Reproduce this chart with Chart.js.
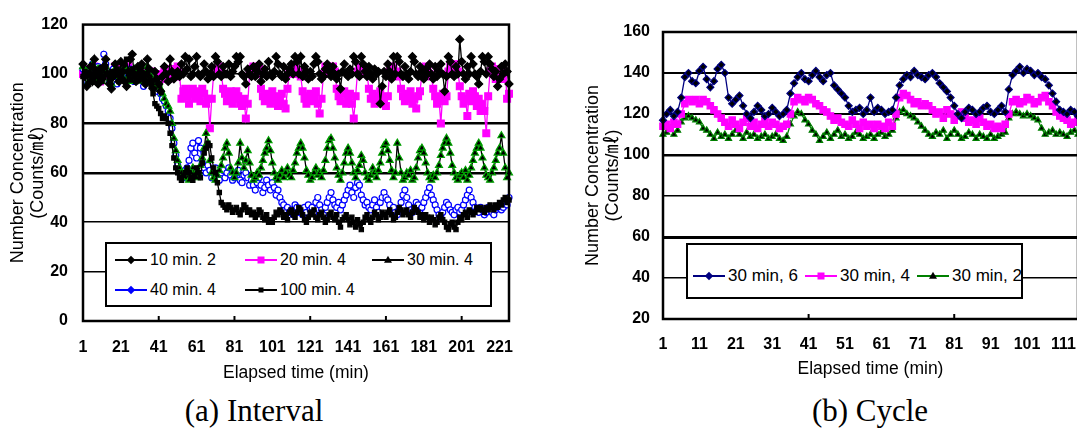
<!DOCTYPE html>
<html>
<head>
<meta charset="utf-8">
<script src="https://cdn.jsdelivr.net/npm/chart.js@4.4.1/dist/chart.umd.min.js"></script>
<style>
  body { margin: 0; width: 1077px; height: 428px; overflow: hidden; background: #fff; position: relative; font-family: 'Liberation Sans', Arial, sans-serif; }
  canvas { position: absolute; top: 0; }
  #chartA { left: 0; }
  #chartB { left: 575px; }
  .legend { position: absolute; border: 2.5px solid #000; background: #fff; box-sizing: border-box; }
  .item { position: absolute; display: flex; align-items: center; font-size: 16px; color: #000; white-space: nowrap; transform: translateY(-50%); }
  .ln { position: relative; width: 32px; height: 2px; margin-right: 3px; }
  .mk { position: absolute; left: 50%; top: 50%; }
  .dia { width: 6px; height: 6px; transform: translate(-50%, -50%) rotate(45deg); }
  .sq { width: 7px; height: 7px; transform: translate(-50%, -50%); }
  .tri { width: 0; height: 0; border-left: 4px solid transparent; border-right: 4px solid transparent; border-bottom: 7px solid #000; transform: translate(-50%, -60%); }
  .caption { position: absolute; top: 395px; font: 31px/31px 'Liberation Serif', 'Times New Roman', serif; transform: translateX(-50%); white-space: nowrap; }
</style>
</head>
<body>
<canvas id="chartA" width="540" height="386"></canvas>
<canvas id="chartB" width="519" height="382"></canvas>

<div class="legend" style="left:105px;top:242px;width:387px;height:65px"></div>
<div class="item" style="left:115px;top:260px"><span class="ln" style="background:#000"><span class="mk dia" style="background:#000"></span></span>10 min. 2</div>
<div class="item" style="left:245px;top:260px"><span class="ln" style="background:#ff00ff"><span class="mk sq" style="background:#ff00ff"></span></span>20 min. 4</div>
<div class="item" style="left:372px;top:260px"><span class="ln" style="background:#000"><span class="mk tri"></span></span>30 min. 4</div>
<div class="item" style="left:115px;top:290px"><span class="ln" style="background:#0000ff"><span class="mk dia" style="background:#0000ff"></span></span>40 min. 4</div>
<div class="item" style="left:245px;top:290px"><span class="ln" style="background:#000"><span class="mk sq" style="background:#000;width:5px;height:5px"></span></span>100 min. 4</div>

<div class="legend" style="left:686px;top:243px;width:337px;height:56px"></div>
<div class="item" style="left:693px;top:276px;font-size:17px"><span class="ln" style="background:#000080"><span class="mk dia" style="background:#000080"></span></span>30 min, 6</div>
<div class="item" style="left:805px;top:276px;font-size:17px"><span class="ln" style="background:#ff00ff"><span class="mk sq" style="background:#ff00ff"></span></span>30 min, 4</div>
<div class="item" style="left:917px;top:276px;font-size:17px"><span class="ln" style="background:#008000"><span class="mk tri"></span></span>30 min, 2</div>

<div class="caption" style="left:254px">(a) Interval</div>
<div class="caption" style="left:870px">(b) Cycle</div>

<script>
// ---- (a) Interval ----
const minutesA = Array.from({ length: 226 }, (_, i) => i + 1);
const ticksA = [1, 21, 41, 61, 81, 101, 121, 141, 161, 181, 201, 221];

const int10m2 = [
  104,99,95,100,103,97,106,100,96,102, 98,103,106,100,96,94,99,104,101,97,
  105,101,97,95,101,106,108,100,97,103, 98,104,100,96,106,102,97,94,101,98,
  96,93,99,103,100,97,106,101,98,100, 101,99,104,100,107,102,106,99,100,103,
  107,100,99,100,104,101,98,100,103,99, 107,105,100,99,103,100,100,104,99,101,
  103,107,105,107,100,99,96,102,100,99, 103,99,101,104,97,100,102,99,105,100,
  99,101,107,104,100,99,103,98,100,102, 104,100,107,105,100,107,99,103,101,98,
  101,99,104,107,105,100,98,99,102,104, 101,99,103,100,98,100,94,101,104,100,
  99,102,100,107,105,100,99,107,104,101, 99,103,100,98,102,100,101,88,95,101,
  99,104,101,98,107,100,107,105,100,99, 103,100,98,101,107,105,100,99,103,101,
  98,102,100,104,100,98,103,99,101,104, 100,93,99,107,105,100,99,103,100,114,
  105,100,98,103,100,107,104,100,99,96, 101,107,105,100,107,104,102,99,101,95,
  98,103,100,104,101,96
];
const int20m4 = [
  100,102,99,101,98,100,103,101,99,97, 100,102,101,99,98,100,101,103,100,99,
  102,100,98,101,103,99,100,101,98,100, 99,101,100,102,98,99,101,100,97,99,
  100,98,99,101,100,98,100,102,101,99, 103,100,90,93,94,91,88,92,94,90,
  93,91,89,94,92,88,90,78,90,100, 102,100,103,101,94,92,89,91,93,88,
  90,93,91,88,87,90,82,88,100,102, 103,101,100,102,94,91,89,92,90,88,
  93,91,89,87,90,92,88,86,94,101, 100,103,102,100,101,99,93,90,88,91,
  92,89,90,93,88,84,90,100,103,101, 102,100,103,101,94,91,89,92,93,88,
  90,92,88,82,91,101,103,100,102,101, 100,94,90,92,88,89,91,93,90,88,
  87,91,101,103,102,100,101,99,94,91, 89,92,90,93,88,90,86,91,93,100,
  102,103,101,100,99,94,91,88,90,80, 92,89,91,101,103,100,102,104,101,95,
  91,88,90,83,92,89,93,91,87,90, 85,88,85,76,91,101,103,100,98,100,
  102,99,98,101,90,92
];
const int30m4 = [
  103,99,101,97,100,104,98,100,102,99, 97,101,103,100,98,96,100,102,99,101,
  100,98,103,101,99,97,100,102,98,100, 101,99,97,100,103,98,99,96,98,95,
  96,94,92,90,88,87,85,80,74,69, 65,62,60,58,60,58,57,60,62,59,
  58,60,63,66,70,76,72,65,60,58, 57,59,61,63,66,70,72,68,62,60,
  58,60,64,72,66,62,65,69,64,59, 57,58,60,59,62,65,68,70,73,69,
  64,60,58,57,59,61,58,60,62,59, 58,61,64,68,70,72,70,66,61,59,
  57,58,60,62,59,60,58,61,65,70, 73,74,70,66,62,59,57,60,64,68,
  70,68,64,60,58,61,63,67,65,60, 58,57,59,62,60,58,61,64,68,71,
  72,69,65,61,58,60,72,66,60,57, 58,60,59,61,57,58,62,66,69,70,
  68,64,60,58,57,59,58,60,63,67, 70,72,74,72,68,63,60,58,57,59,
  60,58,61,57,59,62,65,68,70,72, 70,66,62,59,58,57,60,62,65,68,
  70,75,68,62,58,60
];
const int40m4 = [
  102,100,97,101,99,104,98,100,103,101, 99,108,104,101,97,100,102,99,96,100,
  101,98,103,100,99,102,100,97,99,101, 100,98,95,99,97,100,98,96,95,93,
  94,92,90,89,87,85,82,78,72,67, 63,60,59,58,61,62,65,70,72,68,
  66,73,70,64,62,60,63,61,58,60, 62,59,57,60,61,58,60,62,59,57,
  58,60,61,57,56,59,60,58,55,57, 55,53,56,58,55,52,54,57,55,53,
  56,54,51,53,50,48,47,45,46,44, 45,43,47,46,44,45,43,46,44,47,
  45,46,44,48,50,47,45,43,46,48, 50,52,49,47,46,48,45,47,49,51,
  53,55,52,50,54,56,55,51,49,47, 48,46,45,47,49,46,44,48,50,52,
  50,49,47,45,46,44,43,45,48,51, 53,50,47,45,44,46,48,47,45,46,
  48,50,52,54,51,49,47,45,43,42, 44,46,48,47,45,44,43,45,46,44,
  45,47,49,51,53,50,48,46,45,44, 46,45,43,44,46,45,44,43,45,46,
  47,45,46,48,47,50
];
const int100m4 = [
  99,101,100,96,100,98,102,99,101,100, 97,99,103,100,98,101,99,100,102,97,
  99,101,104,106,100,98,102,99,97,100, 101,103,99,96,100,98,95,92,88,87,
  86,84,82,83,82,80,76,71,66,62, 60,58,57,59,60,62,60,58,57,59,
  62,60,58,64,68,70,72,71,66,62, 60,56,52,48,47,46,45,47,46,44,
  45,46,44,43,45,47,46,44,45,43, 44,42,43,45,44,42,41,43,40,41,
  40,42,44,43,45,44,42,43,41,44, 45,43,42,44,46,45,43,41,40,42,
  44,43,45,42,41,43,44,42,40,41, 43,44,42,41,43,40,38,41,42,43,
  41,39,42,40,38,41,39,37,40,42, 43,41,40,42,44,43,41,42,44,43,
  42,44,45,43,41,42,44,46,45,43, 44,45,43,42,44,46,45,44,42,43,
  41,43,42,40,42,41,39,40,42,43, 41,40,38,37,39,40,38,37,40,42,
  41,43,44,42,45,44,43,44,46,45, 46,45,44,46,45,47,46,45,47,46,
  48,47,49,50,48,49
];

// ---- (b) Cycle ----
const minutesB = Array.from({ length: 115 }, (_, i) => i + 1);
const ticksB = [1, 11, 21, 31, 41, 51, 61, 71, 81, 91, 101, 111];

const cyc30m6 = [
  117,120,122,119,121,128,138,140,136,135, 141,143,137,133,136,142,144,140,128,125,
  127,129,124,120,118,121,124,122,119,120, 123,121,119,120,122,130,135,138,140,137,
  136,139,141,138,136,139,140,134,132,130, 128,124,121,122,123,120,122,128,121,123,
  122,120,121,122,128,134,137,139,138,141, 139,138,137,139,140,138,135,133,131,128,
  124,120,118,121,123,122,120,121,123,124, 121,120,122,124,121,132,139,141,143,140,
  142,141,139,140,138,137,134,130,126,122, 121,120,122,121,119
];
const cyc30m4 = [
  114,115,113,116,115,120,125,127,126,127, 125,127,126,124,122,120,118,116,114,117,
  115,113,116,118,114,116,113,115,117,114, 116,115,113,114,115,120,126,128,127,126,
  128,127,125,124,122,121,119,117,118,116, 115,114,117,115,113,116,114,115,113,115,
  114,113,116,114,120,128,130,129,127,125, 126,124,125,124,122,120,121,118,122,120,
  117,119,121,118,116,117,115,118,116,114, 115,113,114,113,115,120,126,127,125,126,
  128,127,125,126,128,129,126,124,121,119, 118,117,115,116,117
];
const cyc30m2 = [
  110,111,113,110,112,116,118,119,118,117, 116,113,112,110,108,111,109,110,108,110,
  112,110,108,111,109,110,108,109,110,108, 109,110,108,107,109,115,119,121,120,117,
  115,112,110,107,109,111,108,110,112,109, 110,108,109,111,110,108,109,110,108,110,
  111,109,110,112,118,121,122,120,119,118, 116,114,112,110,109,111,110,112,108,110,
  112,110,108,109,111,110,108,110,109,108, 110,108,109,110,111,118,120,121,120,119,
  120,119,118,117,113,110,111,112,110,111, 110,109,111,112,110
];

// plot frame plus the small inner ticks every 40 minutes
const frame = {
  id: 'frame',
  afterDatasetsDraw(chart) {
    const { ctx, chartArea: a } = chart;
    const x = chart.scales.x;
    ctx.save();
    ctx.strokeStyle = '#000';
    ctx.lineWidth = 2.5;
    ctx.strokeRect(a.left, a.top, a.right - a.left, a.bottom - a.top);
    ctx.lineWidth = 2;
    chart.data.labels.forEach((l, i) => {
      if (i > 0 && i % 40 === 0) {
        const px = x.getPixelForValue(i);
        ctx.beginPath();
        ctx.moveTo(px, a.bottom);
        ctx.lineTo(px, a.bottom - 5);
        ctx.stroke();
      }
    });
    ctx.restore();
  }
};

function series(label, data, line, style, radius, fill, edge, order, width) {
  return {
    label: label,
    data: data,
    borderColor: line,
    borderWidth: width || 1.3,
    pointStyle: style,
    pointRadius: radius,
    pointBackgroundColor: fill,
    pointBorderColor: edge,
    pointBorderWidth: 1.2,
    tension: 0,
    order: order,
  };
}

function makeChart(id, labels, shown, yMin, yMax, gridW, datasets, pad, yWidth, xHeight, yPad, xPad) {
  return new Chart(document.getElementById(id), {
    type: 'line',
    data: { labels: labels, datasets: datasets },
    options: {
      responsive: false,
      animation: false,
      devicePixelRatio: 1,
      layout: { padding: pad },
      plugins: { legend: { display: false }, tooltip: { enabled: false } },
      scales: {
        x: {
          grid: { display: false, drawTicks: false },
          border: { display: false },
          ticks: {
            autoSkip: false,
            maxRotation: 0,
            padding: xPad,
            color: '#000',
            font: { family: 'Liberation Sans', size: 16, weight: 'bold' },
            callback: (v, i) => (shown.includes(labels[i]) ? String(labels[i]) : ''),
          },
          title: {
            display: true,
            text: 'Elapsed time (min)',
            color: '#000',
            font: { family: 'Liberation Sans', size: 17.5, lineHeight: 1.2 },
            padding: { top: 0, bottom: 2 },
          },
          afterFit: (s) => { s.height = xHeight; },
        },
        y: {
          min: yMin,
          max: yMax,
          grid: {
            color: '#000',
            drawTicks: false,
            lineWidth: (c) => gridW[c.tick.value] || 0,
          },
          border: { display: false },
          ticks: {
            stepSize: 20,
            padding: yPad,
            color: '#000',
            font: { family: 'Liberation Sans', size: 16, weight: 'bold' },
          },
          title: {
            display: true,
            text: ['Number Concentration', '(Counts/㎖)'],
            color: '#000',
            font: { family: "'Liberation Sans', 'Noto Sans CJK KR'", size: 18, lineHeight: 1.08 },
            padding: { top: 8.5, bottom: 0 },
          },
          afterFit: (s) => { s.width = yWidth; },
        },
      },
    },
    plugins: [frame],
  });
}

makeChart('chartA', minutesA, ticksA, 0, 120,
  { 20: 1.5, 40: 1.5, 60: 2.5, 80: 2.5, 100: 1.5 },
  [
    series('10 min. 2', int10m2, '#000', 'rectRot', 4, '#000', '#000', 1),
    series('20 min. 4', int20m4, '#ff00ff', 'rect', 4.8, '#ff00ff', '#ff00ff', 5),
    series('30 min. 4', int30m4, '#000', 'triangle', 4, '#000', '#00a000', 3),
    series('40 min. 4', int40m4, '#0000ff', 'circle', 3, '#fff', '#0000ff', 4),
    series('100 min. 4', int100m4, '#000', 'rect', 3, '#000', '#000', 2),
  ],
  { top: 15, right: 31, left: 0, bottom: 0 }, 83, 65, 15, 17);

makeChart('chartB', minutesB, ticksB, 20, 160,
  { 40: 1.5, 60: 3, 80: 1.5, 100: 2.5, 120: 2, 140: 2 },
  [
    series('30 min, 6', cyc30m6, '#000080', 'rectRot', 3.5, '#000', '#000080', 1),
    series('30 min, 4', cyc30m4, '#ff00ff', 'rect', 4.5, '#ff00ff', '#ff00ff', 2),
    series('30 min, 2', cyc30m2, '#008000', 'triangle', 3.5, '#000', '#008000', 3),
  ],
  { top: 32, right: 10, left: 0, bottom: 0 }, 88, 63, 13, 16);
</script>
</body>
</html>
